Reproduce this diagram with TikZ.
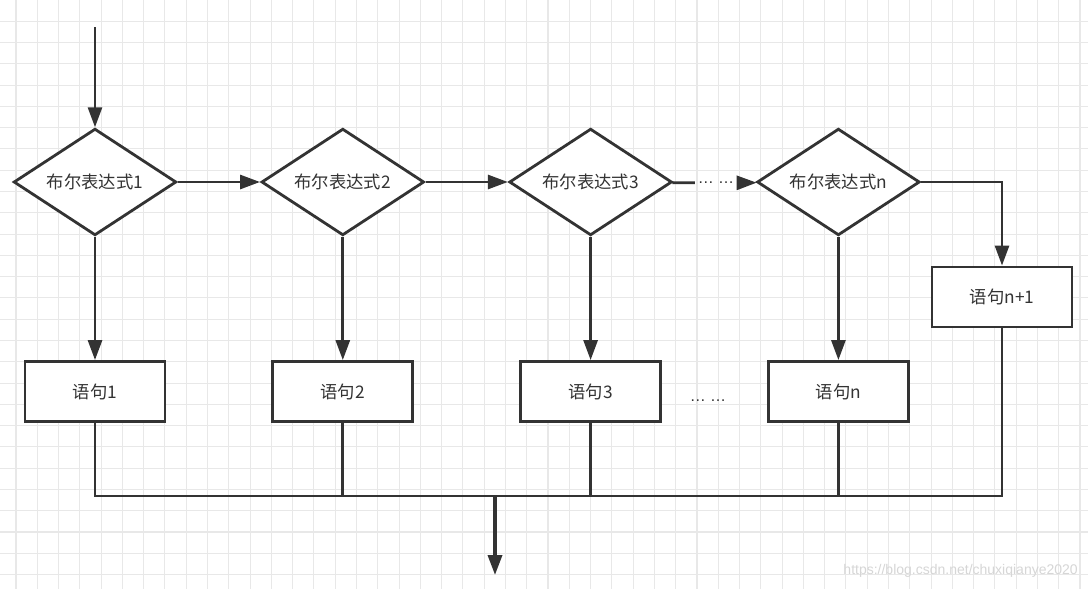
\documentclass[tikz,border=0pt]{standalone}
\usepackage{fontspec}
\setmainfont{Noto Sans CJK SC}
\newfontfamily\markfont{Liberation Sans}
\usepackage{tikz}
\usetikzlibrary{arrows.meta,positioning,shapes.geometric}
\definecolor{ink}{HTML}{333333}
\definecolor{gridc}{HTML}{E8E8E8}
\definecolor{wmark}{HTML}{D6D6D6}
\tikzset{
  cond/.style={diamond, aspect=1.51, draw=ink, fill=white, text=ink, line width=2.1pt,
               inner sep=0pt, minimum width=122pt, minimum height=80pt,
               font=\fontsize{13}{15}\selectfont},
  stmt/.style={rectangle, draw=ink, fill=white, text=ink, line width=2.1pt,
               minimum width=105pt, minimum height=45pt,
               font=\fontsize{13}{15}\selectfont},
  gap/.style={text=ink, inner sep=2pt, font=\markfont\fontsize{12}{14}\selectfont},
  fl/.style={-{Triangle[length=15pt,width=10.5pt]}, draw=ink, line width=2.1pt},
  ln/.style={draw=ink, line width=2.1pt},
  gridln/.style={draw=gridc, line width=0.8pt}
}

\begin{document}
\begin{tikzpicture}[x=0.75pt, y=-0.75pt, node distance=61.75pt and 61.75pt]
  \useasboundingbox (0,0) rectangle (1088,589);
  \clip (0,0) rectangle (1088,589);
  % grid paper
  \fill[white] (0,0) rectangle (1088,589);
  \foreach \i in {0,...,50}
    \draw[gridln] ({16+\i*21.28},0) -- ({16+\i*21.28},589);
  \foreach \j in {1,...,27}
    \draw[gridln] (0,{\j*21.28}) -- (1088,{\j*21.28});

  % conditions
  \node[cond] (c1) at (95,182) {布尔表达式1};
  \node[cond, right=of c1] (c2) {布尔表达式2};
  \node[cond, right=of c2] (c3) {布尔表达式3};
  \node[gap] (g1) at (716,183) {… …};
  \node[cond, right=of c3] (cn) {布尔表达式n};

  % statements
  \node[stmt, below=92.5pt of c1] (s1) {语句1};
  \node[stmt, below=92.5pt of c2] (s2) {语句2};
  \node[stmt, below=92.5pt of c3] (s3) {语句3};
  \node[gap] (g2) at (708,401) {… …};
  \node[stmt, below=92.5pt of cn] (sn) {语句n};
  \node[stmt] (sn1) at (1002,297) {语句n+1};

  \coordinate (in) at (95,27);
  \coordinate (join) at (495,496);
  \coordinate (out) at (495,575);

  \draw[fl] (in) -- (c1);
  \draw[fl] (c1) -- (c2);
  \draw[fl] (c2) -- (c3);
  \draw[ln] (c3) -- (g1);
  \draw[fl] (g1) -- (cn);
  \draw[fl] (cn.east) -| (sn1.north);
  \foreach \k in {1,2,3,n}
    \draw[fl] (c\k) -- (s\k);

  % merge
  \draw[ln] (s1.south) |- (join) -| (sn1.south);
  \foreach \k in {2,3,n}
    \draw[ln] (s\k.south) -- (s\k.south |- join);
  \draw[fl, line width=2.6pt] (join) -- (out);

  \node[anchor=east, text=wmark, inner sep=0pt, font=\markfont\fontsize{10.5}{12}\selectfont]
    (mark) at (1078,571) {https://blog.csdn.net/chuxiqianye2020};
\end{tikzpicture}
\end{document}
